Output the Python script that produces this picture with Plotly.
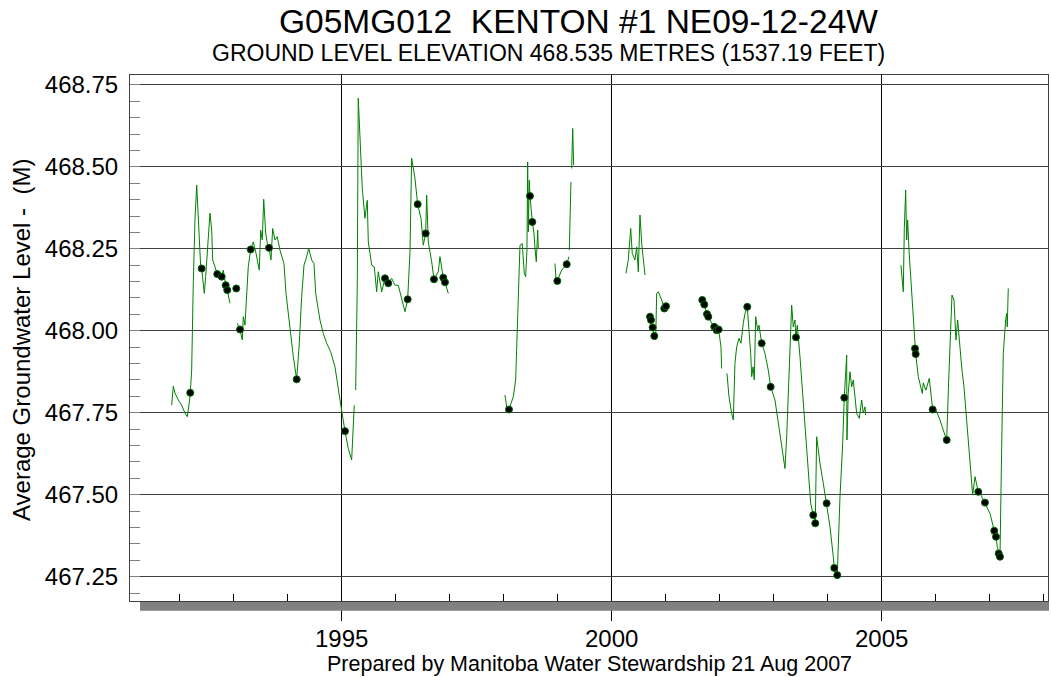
import plotly.graph_objects as go

# ---------------- continuous record (decimal year, level in metres) ----------------
seg1_years = [1991.852, 1991.882, 1991.913, 1991.974, 1992.037, 1992.098, 1992.141, 1992.159, 1992.178,
              1992.196, 1992.222, 1992.252, 1992.283, 1992.315, 1992.344, 1992.363, 1992.389, 1992.407,
              1992.437, 1992.456, 1992.481, 1992.519, 1992.561, 1992.593, 1992.611, 1992.654, 1992.696,
              1992.733, 1992.778, 1992.807, 1992.852, 1992.881, 1992.931]
seg1_levels = [467.773, 467.831, 467.810, 467.789, 467.773, 467.749, 467.738, 467.753, 467.780,
               467.811, 467.880, 468.145, 468.338, 468.444, 468.328, 468.277, 468.195, 468.190,
               468.145, 468.114, 468.165, 468.267, 468.359, 468.307, 468.216, 468.195, 468.173,
               468.165, 468.165, 468.185, 468.139, 468.124, 468.084]

seg2_years = [1993.067, 1993.117, 1993.159, 1993.178, 1993.209, 1993.241, 1993.270, 1993.315, 1993.363,
              1993.413, 1993.474, 1993.500, 1993.530, 1993.556, 1993.593, 1993.622, 1993.654, 1993.691,
              1993.722, 1993.765, 1993.807, 1993.857, 1993.931, 1993.969, 1994.043, 1994.104, 1994.167,
              1994.215, 1994.259, 1994.302, 1994.344, 1994.389, 1994.444, 1994.487, 1994.519, 1994.598,
              1994.659, 1994.722, 1994.796, 1994.876, 1994.969, 1995.006, 1995.061, 1995.122, 1995.185,
              1995.233]
seg2_levels = [468.023, 468.004, 467.972, 468.043, 468.017, 468.104, 468.195, 468.248, 468.271,
               468.237, 468.185, 468.307, 468.277, 468.401, 468.298, 468.267, 468.253, 468.216,
               468.312, 468.277, 468.287, 468.246, 468.205, 468.114, 468.002, 467.921, 467.852,
               467.962, 468.104, 468.200, 468.222, 468.251, 468.216, 468.205, 468.114, 468.033,
               467.992, 467.962, 467.936, 467.890, 467.789, 467.749, 467.694, 467.641, 467.606,
               467.773]

seg3_years = [1995.259, 1995.289, 1995.307, 1995.339, 1995.357, 1995.381, 1995.431, 1995.474, 1995.493,
              1995.556, 1995.604, 1995.648, 1995.678, 1995.741, 1995.802, 1995.863, 1995.926, 1995.987,
              1996.048, 1996.111, 1996.172, 1996.222, 1996.265, 1996.296, 1996.357, 1996.407, 1996.469,
              1996.511, 1996.556, 1996.574, 1996.604, 1996.667, 1996.709, 1996.789, 1996.820, 1996.881,
              1996.913, 1996.974]
seg3_levels = [467.819, 468.139, 468.709, 468.587, 468.505, 468.435, 468.343, 468.398, 468.271,
               468.200, 468.195, 468.119, 468.180, 468.119, 468.160, 468.145, 468.160, 468.139,
               468.139, 468.099, 468.058, 468.096, 468.241, 468.526, 468.465, 468.386, 468.343,
               468.261, 468.297, 468.414, 468.271, 468.210, 468.157, 468.180, 468.226, 468.162,
               468.148, 468.114]

seg4_years = [1998.024, 1998.056, 1998.098, 1998.178, 1998.222, 1998.259, 1998.302, 1998.344, 1998.381,
              1998.407, 1998.431, 1998.444, 1998.456, 1998.474, 1998.487, 1998.530, 1998.561, 1998.580,
              1998.604, 1998.630, 1998.641]
seg4_levels = [467.804, 467.768, 467.760, 467.799, 467.850, 468.073, 468.261, 468.266, 468.175,
               468.165, 468.246, 468.515, 468.302, 468.459, 468.411, 468.332, 468.297, 468.251,
               468.210, 468.307, 468.251]

seg5_years = [1998.950, 1998.969, 1998.993, 1999.074, 1999.167, 1999.209]
seg5_levels = [468.205, 468.155, 468.152, 468.185, 468.203, 468.226]

seg6_years = [1999.215, 1999.246]
seg6_levels = [468.246, 468.454]

seg7_years = [1999.259, 1999.278, 1999.296]
seg7_levels = [468.495, 468.617, 468.505]

seg8_years = [2000.265, 2000.307, 2000.352, 2000.381, 2000.431, 2000.463, 2000.493, 2000.524, 2000.556,
              2000.585, 2000.617]
seg8_levels = [468.175, 468.216, 468.312, 468.236, 468.216, 468.256, 468.180, 468.353, 468.266,
               468.226, 468.170]

seg9_years = [2000.709, 2000.759, 2000.789, 2000.815, 2000.833, 2000.863, 2000.926, 2000.974, 2001.006]
seg9_levels = [468.043, 468.010, 467.984, 467.972, 468.114, 468.119, 468.094, 468.068, 468.075]

seg10_years = [2001.678, 2001.715, 2001.765, 2001.789, 2001.852, 2001.900, 2001.944, 2001.981, 2002.024,
               2002.037]
seg10_levels = [468.094, 468.080, 468.051, 468.043, 468.023, 468.012, 468.002, 468.004, 467.951,
                467.885]

seg11_years = [2002.135, 2002.172, 2002.222, 2002.252, 2002.283, 2002.315, 2002.357, 2002.394, 2002.437,
               2002.469, 2002.511, 2002.543, 2002.574, 2002.593, 2002.617, 2002.641, 2002.667, 2002.704,
               2002.728, 2002.778, 2002.839, 2002.900, 2002.944, 2003.024, 2003.085, 2003.148, 2003.209,
               2003.241, 2003.283, 2003.315, 2003.333, 2003.363, 2003.394, 2003.413, 2003.437, 2003.487,
               2003.548, 2003.598, 2003.641, 2003.685, 2003.733, 2003.770, 2003.796, 2003.857, 2003.919,
               2003.981, 2004.043, 2004.104, 2004.122, 2004.178, 2004.228, 2004.278, 2004.307, 2004.352,
               2004.357, 2004.381, 2004.413, 2004.444, 2004.474, 2004.537, 2004.585, 2004.630, 2004.659,
               2004.691, 2004.704]
seg11_levels = [467.870, 467.799, 467.748, 467.728, 467.901, 467.951, 467.977, 467.962, 468.023,
                468.053, 468.073, 468.012, 467.931, 467.860, 467.890, 467.850, 468.043, 468.002,
                468.017, 467.962, 467.931, 467.880, 467.829, 467.789, 467.718, 467.657, 467.580,
                467.677, 467.870, 468.043, 468.078, 468.012, 468.033, 467.980, 468.017, 467.921,
                467.779, 467.677, 467.555, 467.474, 467.438, 467.413, 467.677, 467.596, 467.535,
                467.474, 467.402, 467.311, 467.277, 467.255, 467.494, 467.657, 467.796, 467.926,
                467.667, 467.809, 467.875, 467.829, 467.850, 467.748, 467.733, 467.789, 467.749,
                467.768, 467.743]

seg12_years = [2005.357, 2005.400, 2005.419, 2005.444, 2005.463, 2005.481, 2005.506, 2005.556, 2005.598,
               2005.617, 2005.630, 2005.678, 2005.722, 2005.752, 2005.770, 2005.820, 2005.881, 2005.907,
               2005.944, 2006.006, 2006.080, 2006.141, 2006.204, 2006.241, 2006.278, 2006.302, 2006.339,
               2006.376, 2006.407, 2006.450, 2006.481, 2006.524, 2006.574, 2006.635, 2006.685, 2006.728,
               2006.789, 2006.839, 2006.913, 2007.006, 2007.085, 2007.117, 2007.141, 2007.167, 2007.191,
               2007.222, 2007.252, 2007.296, 2007.315, 2007.326, 2007.344]
seg12_levels = [468.200, 468.119, 468.312, 468.429, 468.277, 468.338, 468.246, 468.104, 467.992,
                467.946, 467.929, 467.860, 467.829, 467.809, 467.841, 467.819, 467.855, 467.809,
                467.760, 467.758, 467.728, 467.697, 467.667, 467.850, 468.033, 468.109, 468.094,
                467.972, 468.033, 467.941, 467.890, 467.829, 467.718, 467.596, 467.499, 467.555,
                467.509, 467.499, 467.476, 467.443, 467.390, 467.372, 467.341, 467.321, 467.311,
                467.646, 467.931, 468.033, 468.053, 468.012, 468.129]

# ---------------- manual measurements (dots) ----------------
manual_years = [1992.196, 1992.407, 1992.696, 1992.778, 1992.852, 1992.881, 1993.048, 1993.117, 1993.315,
                1993.654, 1994.167, 1995.061, 1995.802, 1995.863, 1996.222, 1996.407, 1996.556, 1996.709,
                1996.881, 1996.913, 1998.098, 1998.487, 1998.530, 1998.993, 1999.167, 2000.709, 2000.728,
                2000.759, 2000.789, 2000.974, 2001.006, 2001.678, 2001.715, 2001.765, 2001.789, 2001.900,
                2001.944, 2001.981, 2002.511, 2002.778, 2002.944, 2003.413, 2003.733, 2003.770, 2003.981,
                2004.122, 2004.178, 2004.307, 2005.617, 2005.630, 2005.944, 2006.204, 2006.789, 2006.913,
                2007.085, 2007.117, 2007.167, 2007.191]
manual_levels = [467.811, 468.190, 468.173, 468.165, 468.139, 468.124, 468.129, 468.004, 468.248,
                 468.253, 467.852, 467.694, 468.160, 468.145, 468.096, 468.386, 468.297, 468.157,
                 468.162, 468.148, 467.760, 468.411, 468.332, 468.152, 468.203, 468.043, 468.033,
                 468.010, 467.984, 468.068, 468.075, 468.094, 468.080, 468.051, 468.043, 468.012,
                 468.002, 468.004, 468.073, 467.962, 467.829, 467.980, 467.438, 467.413, 467.474,
                 467.277, 467.255, 467.796, 467.946, 467.929, 467.760, 467.667, 467.509, 467.476,
                 467.390, 467.372, 467.321, 467.311]

# ---------------- axis labels / text ----------------
x_tick_vals = [1995, 2000, 2005]
x_tick_text = ["1995", "2000", "2005"]
x_minor_vals = list(range(1992, 2009))
y_tick_vals = [467.25, 467.50, 467.75, 468.00, 468.25, 468.50, 468.75]
y_tick_text = ["467.25", "467.50", "467.75", "468.00", "468.25", "468.50", "468.75"]

title_text = "G05MG012  KENTON #1 NE09-12-24W"
subtitle_text = "GROUND LEVEL ELEVATION 468.535 METRES (1537.19 FEET)"
ytitle_text = "Average Groundwater Level -  (M)"
footer_text = "Prepared by Manitoba Water Stewardship 21 Aug 2007"

segments = [(seg1_years, seg1_levels), (seg2_years, seg2_levels), (seg3_years, seg3_levels),
            (seg4_years, seg4_levels), (seg5_years, seg5_levels), (seg6_years, seg6_levels),
            (seg7_years, seg7_levels), (seg8_years, seg8_levels), (seg9_years, seg9_levels),
            (seg10_years, seg10_levels), (seg11_years, seg11_levels), (seg12_years, seg12_levels)]

line_x, line_y = [], []
for sx, sy in segments:
    line_x += list(sx) + [None]
    line_y += list(sy) + [None]

FONT = "Liberation Sans, Arial, sans-serif"

fig = go.Figure()
fig.add_trace(go.Scatter(x=line_x, y=line_y, mode="lines",
                         line=dict(color="#008000", width=1), connectgaps=False,
                         showlegend=False, hoverinfo="skip"))
fig.add_trace(go.Scatter(x=manual_years, y=manual_levels, mode="markers",
                         marker=dict(color="black", size=7, line=dict(color="#006400", width=1)),
                         showlegend=False))

W, H = 1051, 677
L, R, T, B = 130, 3, 75, 76
pw, ph = W - L - R, H - T - B

def px(x):  # picture x -> paper fraction
    return (x - L) / pw

def py(y):  # picture y -> paper fraction
    return (H - B - y) / ph

fig.update_layout(
    width=W, height=H,
    margin=dict(l=L, r=R, t=T, b=B, pad=0),
    paper_bgcolor="white", plot_bgcolor="white",
    font=dict(family=FONT, color="black"),
    xaxis=dict(range=[1991.08, 2008.08], tickmode="array", tickvals=x_tick_vals, ticktext=x_tick_text,
               ticks="outside", ticklen=19, tickcolor="black", tickwidth=1,
               showgrid=True, gridcolor="black", gridwidth=1,
               showline=True, linecolor="#404040", linewidth=1, mirror=True,
               zeroline=False, tickfont=dict(size=24, family=FONT), ticklabelstandoff=-3,
               minor=dict(tickmode="array", tickvals=x_minor_vals, ticks="inside", ticklen=7,
                          tickcolor="black", showgrid=False)),
    yaxis=dict(range=[467.176, 468.780], tickmode="array", tickvals=y_tick_vals, ticktext=y_tick_text,
               ticks="inside", ticklen=10, tickcolor="#808080",
               showgrid=True, gridcolor="#404040", gridwidth=1,
               showline=True, linecolor="#404040", linewidth=1, mirror=True,
               zeroline=False, tickfont=dict(size=24, family=FONT), ticklabelstandoff=6,
               minor=dict(dtick=0.05, tick0=467.0, ticks="inside", ticklen=10,
                          tickcolor="#808080", showgrid=False)),
    shapes=[dict(type="rect", xref="paper", yref="paper",
                 x0=px(140), x1=px(1049), y0=py(610.7), y1=py(602),
                 fillcolor="#808080", line=dict(width=0), layer="above")],
    annotations=[
        dict(text=title_text, xref="paper", yref="paper", x=px(578), y=py(22),
             xanchor="center", yanchor="middle", showarrow=False, font=dict(size=33.5, family=FONT)),
        dict(text=subtitle_text, xref="paper", yref="paper", x=px(548), y=py(53),
             xanchor="center", yanchor="middle", showarrow=False, font=dict(size=23, family=FONT)),
        dict(text=ytitle_text, xref="paper", yref="paper", x=px(22), y=py(340),
             xanchor="center", yanchor="middle", showarrow=False, textangle=-90,
             font=dict(size=24, family=FONT)),
        dict(text=footer_text, xref="paper", yref="paper", x=px(589), y=py(664),
             xanchor="center", yanchor="middle", showarrow=False, font=dict(size=21.5, family=FONT)),
    ],
)

# remove the browser's default 8 px body margin so the figure fills the window exactly
fig.write_html("out.html", config={"displayModeBar": False},
               post_script="document.body.style.margin='0';")
